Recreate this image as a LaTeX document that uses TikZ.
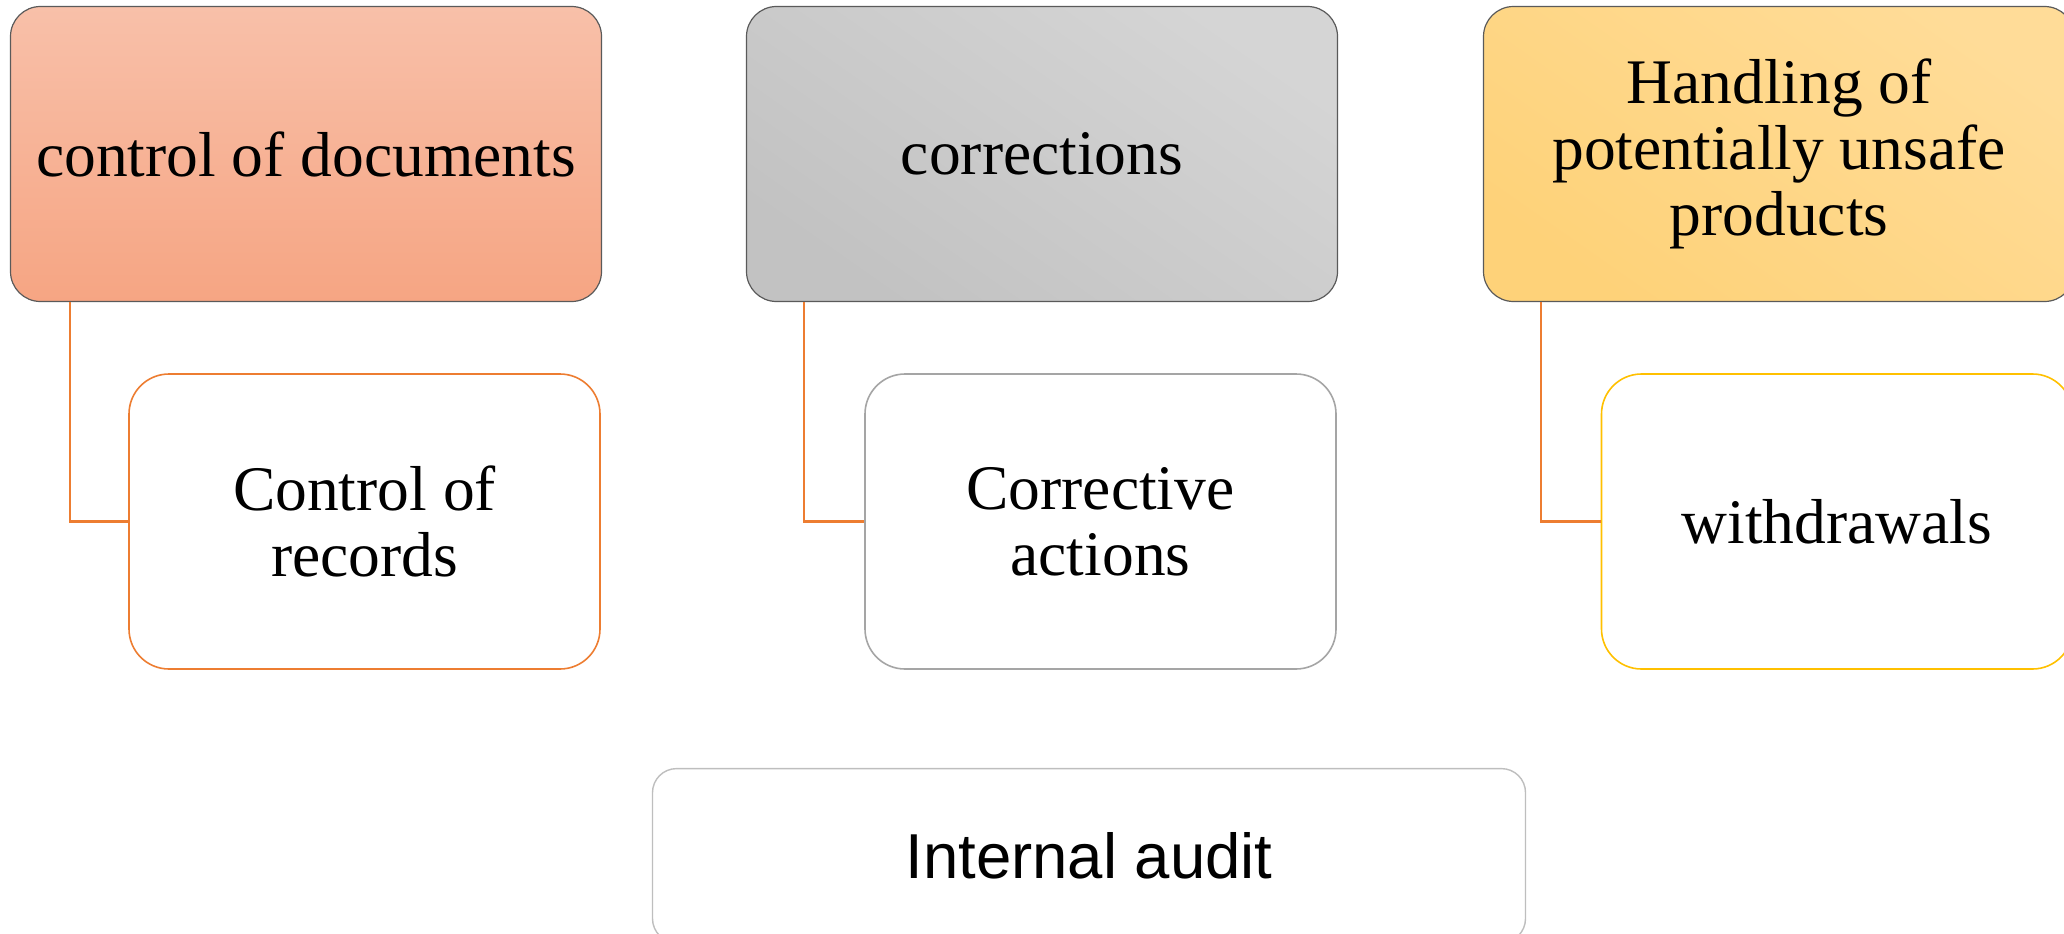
\documentclass[tikz,border=0pt]{standalone}
\usepackage{fontspec}
\setmainfont{Liberation Serif}
\newfontfamily\auditfont{Liberation Sans}
\usetikzlibrary{calc}

\definecolor{accOrange}{HTML}{ED7D31}
\definecolor{accGray}{HTML}{A5A5A5}
\definecolor{accGold}{HTML}{FFC000}
\definecolor{edgeDark}{HTML}{5A5A5A}

\tikzset{
  headbox/.style={draw=edgeDark, line width=1.2pt, rounded corners=30pt,
    minimum width=591pt, minimum height=295pt, align=center, inner sep=0pt,
    font=\fontsize{63.5}{66}\selectfont},
  subbox/.style={fill=white, line width=1.6pt, rounded corners=40pt,
    minimum width=471pt, minimum height=295pt, align=center, inner sep=0pt,
    font=\fontsize{63.5}{66}\selectfont},
  link/.style={draw=accOrange, line width=2.4pt}
}

\begin{document}
\begin{tikzpicture}[x=1pt, y=-1pt]
  \useasboundingbox (0,0) rectangle (2064,934);
  \begin{scope}
    \clip (0,0) rectangle (2064,934);

    % top row of headings
    \node[headbox, top color={rgb,255:red,248;green,192;blue,169},
          bottom color={rgb,255:red,246;green,165;blue,131}]
      (docs) at (306,154) {control of documents};
    \node[headbox, top color={rgb,255:red,213;green,213;blue,213},
          bottom color={rgb,255:red,194;green,194;blue,194}, shading angle=-35]
      (corr) at (1042,154) {corrections};
    \node[headbox, top color={rgb,255:red,255;green,220;blue,152},
          bottom color={rgb,255:red,254;green,210;blue,121}, shading angle=-35]
      (unsafe) at (1779,154) {Handling of\\potentially unsafe\\products};

    % sub-items
    \node[subbox, draw=accOrange] (records) at (364.5,521.5) {Control of\\records};
    \node[subbox, draw=accGray] (actions) at (1100.5,521.5) {Corrective\\actions};
    \node[subbox, draw=accGold] (withdraw) at (1837,521.5) {withdrawals};

    % elbow connectors
    \draw[link] ($(docs.south west)+(60,0)$) |- (records.west);
    \draw[link] ($(corr.south west)+(58,0)$) |- (actions.west);
    \draw[link] ($(unsafe.south west)+(58,0)$) |- (withdraw.west);

    % bottom box
    \node[draw={rgb,255:red,190;green,190;blue,190}, line width=1.4pt,
          rounded corners=24pt, fill=white, minimum width=873pt,
          minimum height=174pt, inner sep=0pt,
          font=\auditfont\fontsize{63.5}{66}\selectfont]
      (audit) at (1089,855.6) {Internal audit};
  \end{scope}
\end{tikzpicture}
\end{document}
